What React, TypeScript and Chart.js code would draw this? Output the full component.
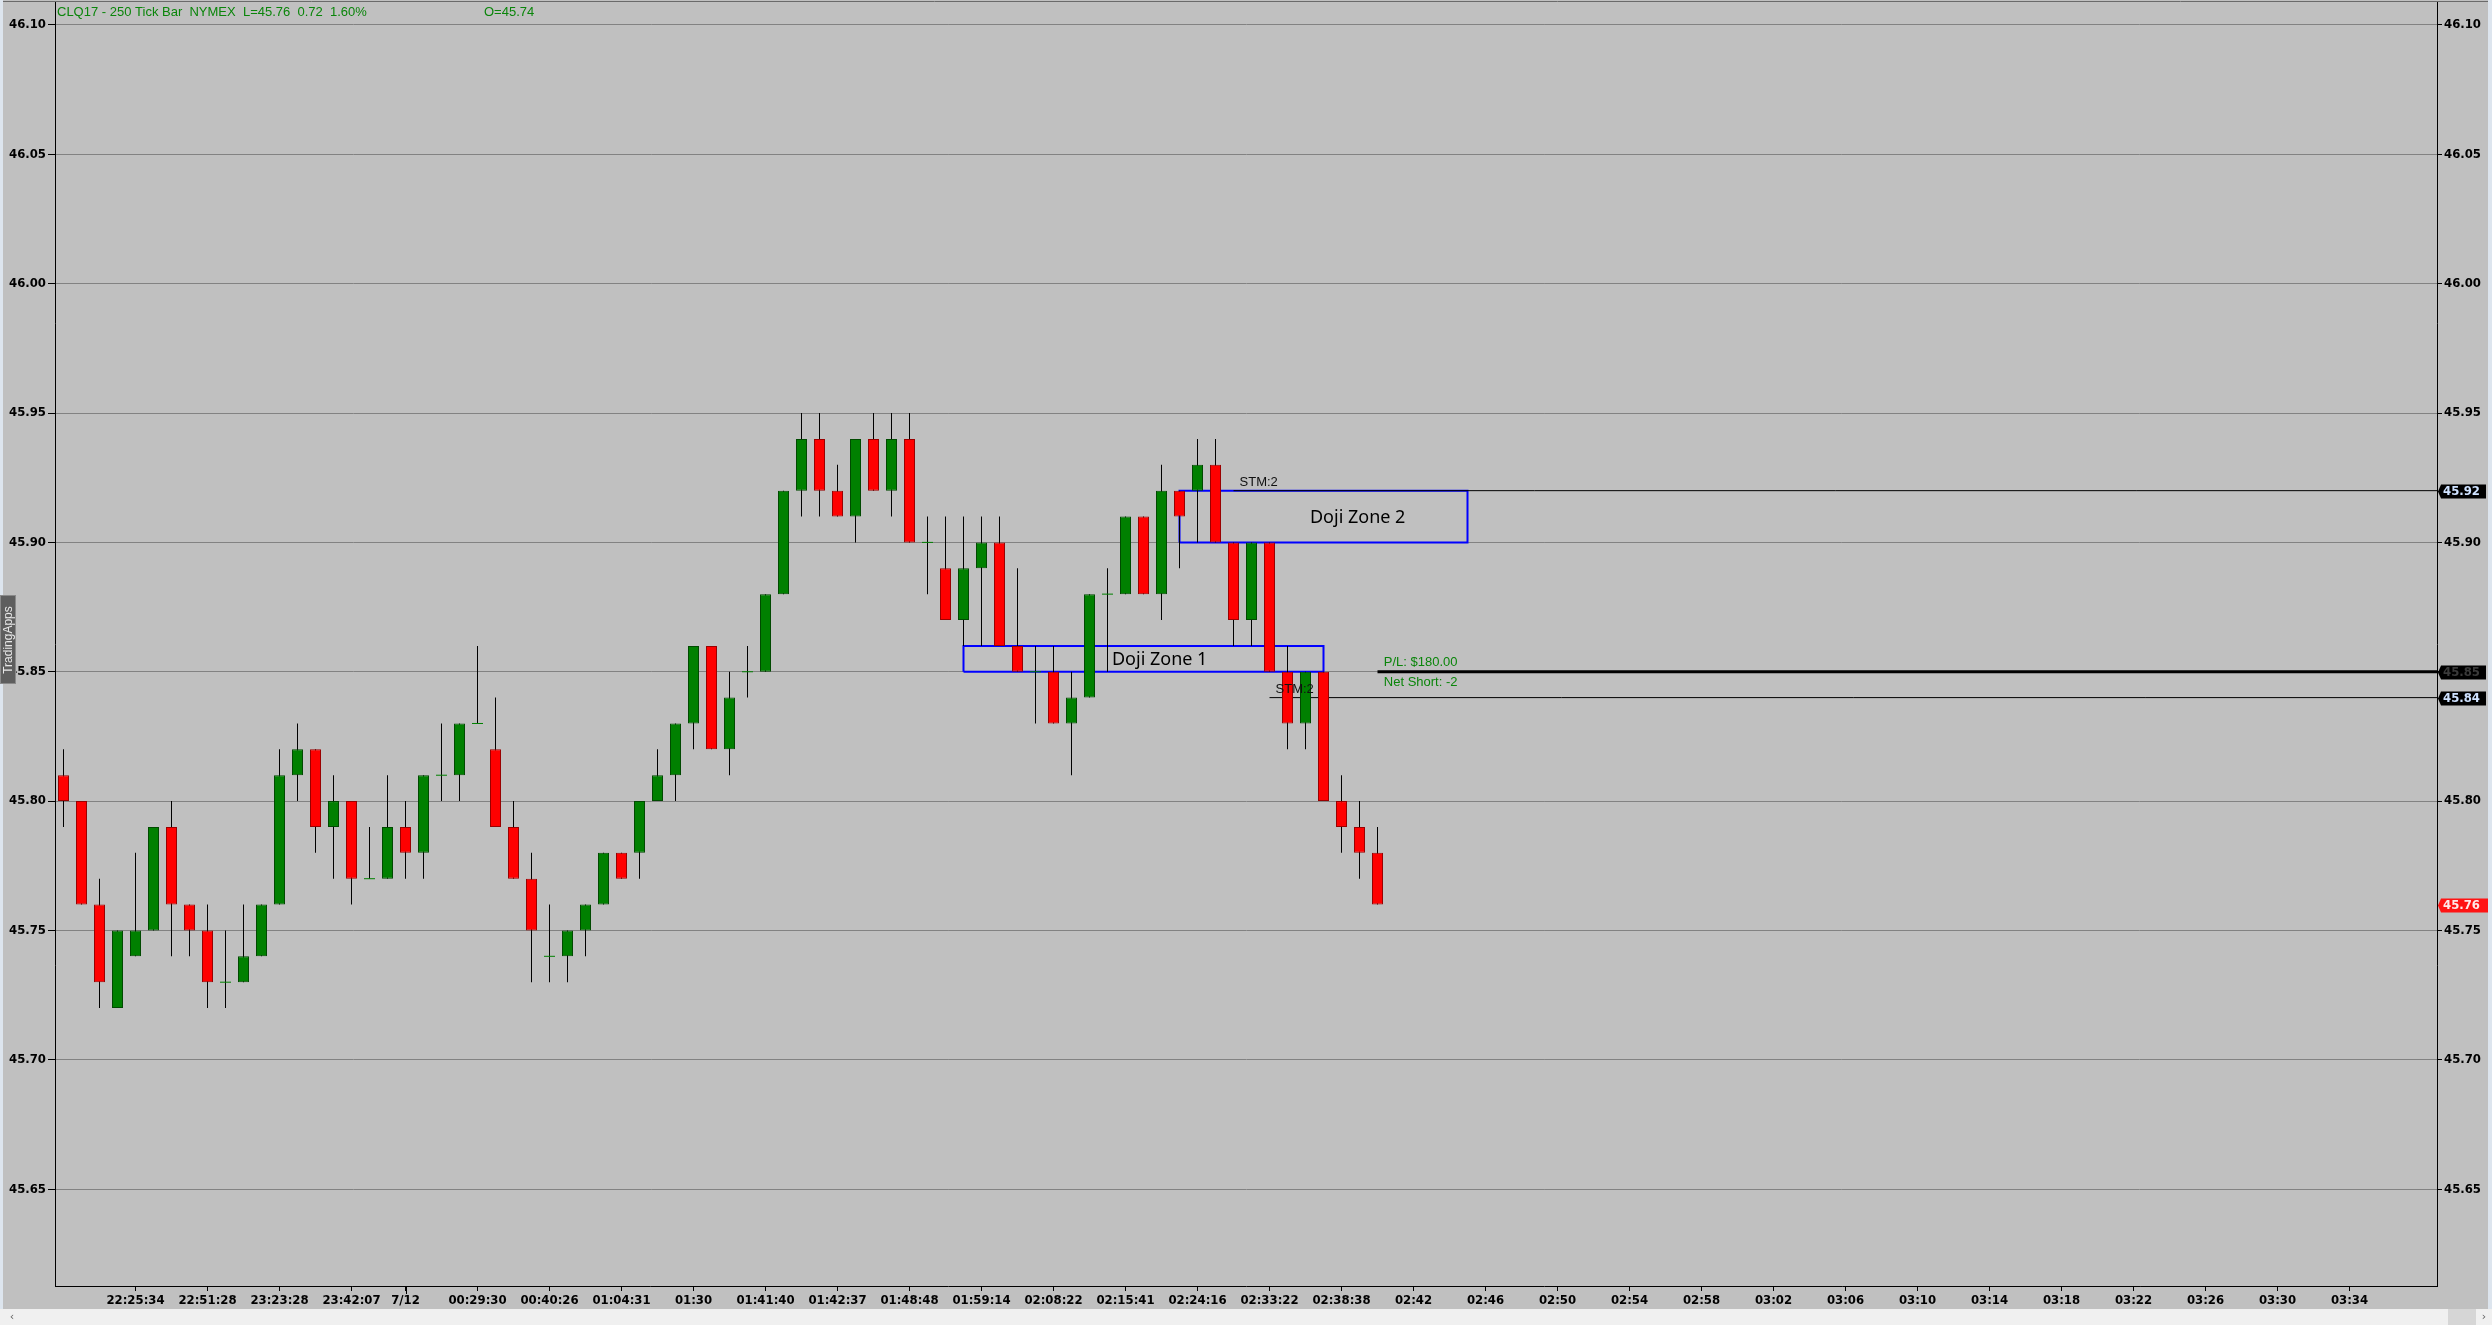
import React, { useEffect, useRef } from "react";
import { Chart, registerables } from "chart.js";

Chart.register(...registerables);

const W = 2492;
const H = 1325;

// ---- OHLC data (one entry per 250-tick bar) ----
const opens = [
  45.81, 45.80, 45.76, 45.72, 45.74, 45.75, 45.79, 45.76, 45.75, 45.73,
  45.73, 45.74, 45.76, 45.81, 45.82, 45.79, 45.80, 45.77, 45.77, 45.79,
  45.78, 45.81, 45.81, 45.83, 45.82, 45.79, 45.77, 45.74, 45.74, 45.75,
  45.76, 45.78, 45.78, 45.80, 45.81, 45.83, 45.86, 45.82, 45.85, 45.85,
  45.88, 45.92, 45.94, 45.92, 45.91, 45.94, 45.92, 45.94, 45.90, 45.89,
  45.87, 45.89, 45.90, 45.86, 45.85, 45.85, 45.83, 45.84, 45.88, 45.88,
  45.91, 45.88, 45.92, 45.92, 45.93, 45.90, 45.87, 45.90, 45.85, 45.83,
  45.85, 45.80, 45.79, 45.78,
];
const highs = [
  45.82, 45.80, 45.77, 45.75, 45.78, 45.79, 45.80, 45.76, 45.76, 45.75,
  45.76, 45.76, 45.82, 45.83, 45.82, 45.81, 45.80, 45.79, 45.81, 45.80,
  45.81, 45.83, 45.83, 45.86, 45.84, 45.80, 45.78, 45.76, 45.75, 45.76,
  45.78, 45.78, 45.80, 45.82, 45.83, 45.86, 45.86, 45.85, 45.86, 45.88,
  45.92, 45.95, 45.95, 45.93, 45.94, 45.95, 45.95, 45.95, 45.91, 45.91,
  45.91, 45.91, 45.91, 45.89, 45.86, 45.86, 45.85, 45.88, 45.89, 45.91,
  45.91, 45.93, 45.92, 45.94, 45.94, 45.90, 45.90, 45.90, 45.86, 45.85,
  45.85, 45.81, 45.80, 45.79,
];
const lows = [
  45.79, 45.76, 45.72, 45.72, 45.74, 45.75, 45.74, 45.74, 45.72, 45.72,
  45.73, 45.74, 45.76, 45.80, 45.78, 45.77, 45.76, 45.77, 45.77, 45.77,
  45.77, 45.80, 45.80, 45.83, 45.79, 45.77, 45.73, 45.73, 45.73, 45.74,
  45.76, 45.77, 45.77, 45.80, 45.80, 45.82, 45.82, 45.81, 45.84, 45.85,
  45.88, 45.91, 45.91, 45.91, 45.90, 45.92, 45.91, 45.90, 45.88, 45.87,
  45.86, 45.86, 45.86, 45.85, 45.83, 45.83, 45.81, 45.84, 45.85, 45.88,
  45.88, 45.87, 45.89, 45.90, 45.90, 45.86, 45.86, 45.85, 45.82, 45.82,
  45.80, 45.78, 45.77, 45.76,
];
const closes = [
  45.80, 45.76, 45.73, 45.75, 45.75, 45.79, 45.76, 45.75, 45.73, 45.73,
  45.74, 45.76, 45.81, 45.82, 45.79, 45.80, 45.77, 45.77, 45.79, 45.78,
  45.81, 45.81, 45.83, 45.83, 45.79, 45.77, 45.75, 45.74, 45.75, 45.76,
  45.78, 45.77, 45.80, 45.81, 45.83, 45.86, 45.82, 45.84, 45.85, 45.88,
  45.92, 45.94, 45.92, 45.91, 45.94, 45.92, 45.94, 45.90, 45.90, 45.87,
  45.89, 45.90, 45.86, 45.85, 45.85, 45.83, 45.84, 45.88, 45.88, 45.91,
  45.88, 45.92, 45.91, 45.93, 45.90, 45.87, 45.90, 45.85, 45.83, 45.85,
  45.80, 45.79, 45.78, 45.76,
];

// ---- axis ticks ----
const xTickIndex = [
  4, 8, 12, 16, 19, 23, 27, 31, 35, 39, 43, 47, 51, 55, 59, 63, 67, 71,
  75, 79, 83, 87, 91, 95, 99, 103, 107, 111, 115, 119, 123, 127,
];
const xTickLabels = [
  "22:25:34", "22:51:28", "23:23:28", "23:42:07", "7/12", "00:29:30",
  "00:40:26", "01:04:31", "01:30", "01:41:40", "01:42:37", "01:48:48",
  "01:59:14", "02:08:22", "02:15:41", "02:24:16", "02:33:22", "02:38:38",
  "02:42", "02:46", "02:50", "02:54", "02:58", "03:02", "03:06", "03:10",
  "03:14", "03:18", "03:22", "03:26", "03:30", "03:34",
];
const yTickValues = [45.65, 45.7, 45.75, 45.8, 45.85, 45.9, 45.95, 46.0, 46.05, 46.1];

// ---- annotations (bar index / price) ----
const dojiZones = [
  { x0: 50, x1: 70, low: 45.85, high: 45.86, label: "Doji Zone 1", labelX: 60.9 },
  { x0: 62, x1: 78, low: 45.9, high: 45.92, label: "Doji Zone 2", labelX: 71.9 },
];
const stmLevels = [
  { price: 45.92, from: 65, textX: 66.4 },
  { price: 45.84, from: 67, textX: 68.4 },
];
const positionPrice = 45.85;
const positionFrom = 73;
const plText = "P/L: $180.00";
const netText = "Net Short: -2";
const lastPrice = 45.76;
const headerText = "CLQ17 - 250 Tick Bar  NYMEX  L=45.76  0.72  1.60%";
const headerOpen = "O=45.74";
const dateBreakIndex = 19;

export default function App() {
  const ref = useRef<HTMLCanvasElement>(null);

  useEffect(() => {
    document.body.style.margin = "0";
    const canvas = ref.current;
    if (!canvas) return;

    const PLOT_LEFT = 55;
    const PLOT_RIGHT = 2437;
    const PLOT_TOP = 2;
    const PLOT_BOTTOM = 1286;
    const pxPerBar = 18;
    const pxPerDollar = 2587;
    const xMin = -8.5 / pxPerBar;
    const xMax = xMin + (PLOT_RIGHT - PLOT_LEFT) / pxPerBar;
    const yMax = 46.1 + (25 - PLOT_TOP) / pxPerDollar;
    const yMin = yMax - (PLOT_BOTTOM - PLOT_TOP) / pxPerDollar;

    const idx = opens.map((_, i) => i);
    const bodyIdx = idx.filter((i) => opens[i] !== closes[i]);
    const dojiIdx = idx.filter((i) => opens[i] === closes[i]);

    const tickFont = {
      family: '"DejaVu Sans Condensed", "DejaVu Sans", sans-serif',
      size: 13,
      weight: "bold" as const,
    };

    const noPad = (s: any) => {
      s.paddingTop = 0;
      s.paddingBottom = 0;
      s.paddingLeft = 0;
      s.paddingRight = 0;
    };

    const lineDatasets: any[] = [];
    dojiZones.forEach((z) => {
      lineDatasets.push({
        type: "line",
        data: [
          { x: z.x0, y: z.low },
          { x: z.x0, y: z.high },
          { x: z.x1, y: z.high },
          { x: z.x1, y: z.low },
          { x: z.x0, y: z.low },
        ],
        borderColor: "#0000ff",
        borderWidth: 2,
        pointRadius: 0,
        fill: false,
        tension: 0,
        order: 6,
      });
    });
    stmLevels.forEach((s) => {
      lineDatasets.push({
        type: "line",
        data: [
          { x: s.from, y: s.price },
          { x: xMax, y: s.price },
        ],
        borderColor: "#000000",
        borderWidth: 1,
        pointRadius: 0,
        fill: false,
        order: 5,
      });
    });
    lineDatasets.push({
      type: "line",
      data: [
        { x: positionFrom, y: positionPrice },
        { x: xMax, y: positionPrice },
      ],
      borderColor: "#000000",
      borderWidth: 3,
      pointRadius: 0,
      fill: false,
      order: 5,
    });

    const fontStr = (w: string, size: number, fam: string) => `${w} ${size}px ${fam}`;

    const decor = {
      id: "decor",
      beforeDraw(chart: any) {
        const ctx = chart.ctx;
        ctx.save();
        ctx.fillStyle = "#c0c0c0";
        ctx.fillRect(0, 0, W, H);
        ctx.restore();
      },
      afterDraw(chart: any) {
        const ctx = chart.ctx;
        const xs = chart.scales.x;
        const ys = chart.scales.y;
        const area = chart.chartArea;
        ctx.save();

        // top frame line
        ctx.strokeStyle = "#6a6a6a";
        ctx.lineWidth = 1;
        ctx.beginPath();
        ctx.moveTo(0, 1.5);
        ctx.lineTo(W, 1.5);
        ctx.stroke();

        // longer tick for date break
        const dbx = Math.round(xs.getPixelForValue(dateBreakIndex)) + 0.5;
        ctx.strokeStyle = "#000";
        ctx.beginPath();
        ctx.moveTo(dbx, area.bottom);
        ctx.lineTo(dbx, area.bottom + 8);
        ctx.stroke();

        // header
        ctx.fillStyle = "#0a850a";
        ctx.font = fontStr("normal", 13, '"Liberation Sans", Arial, sans-serif');
        ctx.textBaseline = "middle";
        ctx.textAlign = "left";
        ctx.fillText(headerText, 57, 12);
        ctx.fillText(headerOpen, 484, 12);

        // doji zone labels
        ctx.fillStyle = "#000";
        ctx.font = fontStr("normal", 18, '"Noto Sans", sans-serif');
        ctx.textAlign = "center";
        dojiZones.forEach((z) => {
          const px = xs.getPixelForValue(z.labelX);
          const py = ys.getPixelForValue((z.low + z.high) / 2);
          ctx.fillText(z.label, px, py + 1);
        });

        // STM labels
        ctx.font = fontStr("normal", 13, '"Liberation Sans", Arial, sans-serif');
        ctx.fillStyle = "#111";
        stmLevels.forEach((s) => {
          const px = xs.getPixelForValue(s.textX);
          const py = ys.getPixelForValue(s.price);
          ctx.fillText("STM:2", px, py - 8.5);
        });

        // P/L text
        ctx.textAlign = "left";
        ctx.fillStyle = "#0a850a";
        const plx = xs.getPixelForValue(positionFrom + 0.35);
        const ply = ys.getPixelForValue(positionPrice);
        ctx.fillText(plText, plx, ply - 9.5);
        ctx.fillText(netText, plx, ply + 10.5);

        // right axis marker boxes
        const markers = [
          { price: stmLevels[0].price, fill: "#000000", color: "#cfe2ff" },
          { price: positionPrice, fill: "#000000", color: "#3a3a3a" },
          { price: stmLevels[1].price, fill: "#000000", color: "#cfe2ff" },
          { price: lastPrice, fill: "#ff1414", color: "#ffe8e8" },
        ];
        ctx.font = fontStr("bold", 13, '"DejaVu Sans Condensed", "DejaVu Sans", sans-serif');
        markers.forEach((m) => {
          const py = Math.round(ys.getPixelForValue(m.price));
          const x0 = area.right + 4;
          const x1 = m.fill === "#000000" ? 2486 : 2488;
          ctx.fillStyle = m.fill;
          ctx.beginPath();
          ctx.moveTo(area.right + 1, py + 0.5);
          ctx.lineTo(x0, py - 6.5);
          ctx.lineTo(x1, py - 6.5);
          ctx.lineTo(x1, py + 7.5);
          ctx.lineTo(x0, py + 7.5);
          ctx.closePath();
          ctx.fill();
          ctx.fillStyle = m.color;
          ctx.textBaseline = "middle";
          ctx.fillText(m.price.toFixed(2), area.right + 6, py + 1);
        });

        // side strips
        ctx.fillStyle = "#dde5ee";
        ctx.fillRect(0, 0, 3, H);
        ctx.fillRect(W - 4, 0, 4, H);

        // scrollbar
        ctx.fillStyle = "#f0f0f0";
        ctx.fillRect(0, 1309, W, H - 1309);
        ctx.fillStyle = "#d6d6d6";
        ctx.fillRect(2448, 1309, 28, H - 1309);
        ctx.fillStyle = "#606060";
        ctx.font = fontStr("normal", 11, '"DejaVu Sans", sans-serif');
        ctx.textAlign = "center";
        ctx.fillText("\u2039", 12, 1317);
        ctx.fillText("\u203A", 2484, 1317);

        // TradingApps tab
        ctx.fillStyle = "#5e5e5e";
        ctx.fillRect(0, 595, 16, 89);
        ctx.strokeStyle = "#8a8a8a";
        ctx.strokeRect(0.5, 595.5, 15, 88);
        ctx.translate(8.5, 640);
        ctx.rotate(-Math.PI / 2);
        ctx.fillStyle = "#e8e8e8";
        ctx.font = fontStr("normal", 12, '"Liberation Sans", Arial, sans-serif');
        ctx.textAlign = "center";
        ctx.textBaseline = "middle";
        ctx.fillText("TradingApps", 0, 0);

        ctx.restore();
      },
    };

    const chart = new Chart(canvas, {
      type: "bar",
      data: {
        datasets: [
          {
            type: "bar",
            label: "wick",
            data: idx.map((i) => ({ x: i, y: [lows[i], highs[i]] })) as any,
            backgroundColor: "#000000",
            borderWidth: 0,
            barThickness: 1,
            grouped: false,
            inflateAmount: 0,
            order: 3,
          } as any,
          {
            type: "bar",
            label: "body",
            data: bodyIdx.map((i) => ({ x: i, y: [opens[i], closes[i]] })) as any,
            backgroundColor: bodyIdx.map((i) => (closes[i] > opens[i] ? "#008000" : "#ff0000")),
            borderColor: bodyIdx.map((i) => (closes[i] > opens[i] ? "#004a00" : "#9a0000")),
            borderWidth: 1,
            borderSkipped: false,
            barThickness: 11,
            grouped: false,
            inflateAmount: 0,
            order: 2,
          } as any,
          {
            type: "line",
            label: "doji",
            data: dojiIdx.map((i) => ({ x: i, y: closes[i] })),
            showLine: false,
            pointStyle: "line",
            pointRadius: 5.5,
            pointBorderColor: "#008000",
            pointBorderWidth: 1,
            order: 1,
          } as any,
          ...lineDatasets,
        ],
      },
      options: {
        animation: false,
        responsive: false,
        events: [],
        layout: { padding: { top: PLOT_TOP, left: 0, right: 0, bottom: 0 }, autoPadding: false },
        plugins: { legend: { display: false }, tooltip: { enabled: false } },
        scales: {
          x: {
            type: "linear",
            position: "bottom",
            min: xMin,
            max: xMax,
            offset: false,
            afterFit: (s: any) => {
              s.height = H - PLOT_BOTTOM;
              noPad(s);
            },
            afterBuildTicks: (s: any) => {
              s.ticks = xTickIndex.map((v) => ({ value: v }));
            },
            grid: {
              display: true,
              drawOnChartArea: false,
              drawTicks: true,
              tickLength: 5,
              tickColor: "#000",
              offset: false,
            },
            border: { display: true, color: "#000", width: 1 },
            ticks: {
              autoSkip: false,
              maxRotation: 0,
              minRotation: 0,
              padding: 2,
              color: "#000",
              font: tickFont,
              callback: (v: any) => {
                const j = xTickIndex.indexOf(Number(v));
                return j >= 0 ? xTickLabels[j] : "";
              },
            },
          },
          y: {
            type: "linear",
            position: "left",
            min: yMin,
            max: yMax,
            afterFit: (s: any) => {
              s.width = PLOT_LEFT;
              noPad(s);
            },
            afterBuildTicks: (s: any) => {
              s.ticks = yTickValues.map((v) => ({ value: v }));
            },
            grid: {
              color: "#828282",
              lineWidth: 1,
              drawTicks: true,
              tickLength: 7,
              tickColor: "#000",
            },
            border: { display: true, color: "#000", width: 1 },
            ticks: {
              autoSkip: false,
              padding: 2,
              color: "#000",
              font: tickFont,
              callback: (v: any) => Number(v).toFixed(2),
            },
          },
          y2: {
            type: "linear",
            position: "right",
            min: yMin,
            max: yMax,
            afterFit: (s: any) => {
              s.width = W - PLOT_RIGHT;
              noPad(s);
            },
            afterBuildTicks: (s: any) => {
              s.ticks = yTickValues.map((v) => ({ value: v }));
            },
            grid: {
              drawOnChartArea: false,
              drawTicks: true,
              tickLength: 5,
              tickColor: "#000",
            },
            border: { display: true, color: "#000", width: 1 },
            ticks: {
              autoSkip: false,
              padding: 2,
              color: "#000",
              font: tickFont,
              callback: (v: any) => Number(v).toFixed(2),
            },
          },
        },
      } as any,
      plugins: [decor],
    });

    return () => chart.destroy();
  }, []);

  return (
    <div style={{ position: "fixed", left: 0, top: 0, width: W, height: H }}>
      <canvas ref={ref} width={W} height={H} style={{ width: W, height: H, display: "block" }} />
    </div>
  );
}
